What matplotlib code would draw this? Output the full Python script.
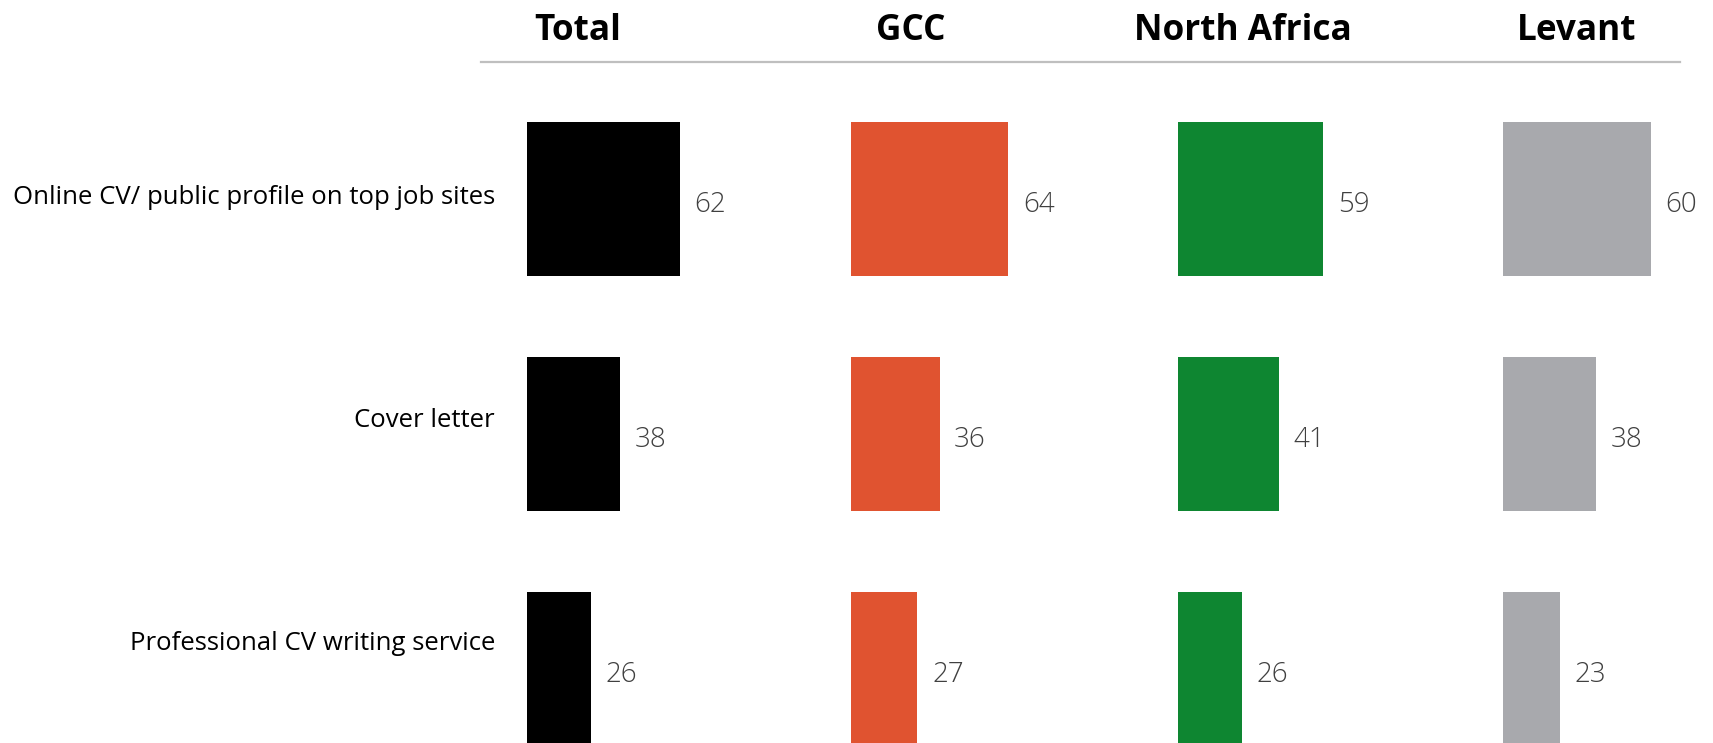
import matplotlib
matplotlib.use("Agg")
import matplotlib.pyplot as plt
from matplotlib.lines import Line2D

# Survey data: share of respondents (%) using each job-search tool, by region
categories = [
    "Online CV/ public profile on top job sites",
    "Cover letter",
    "Professional CV writing service",
]
regions = ["Total", "GCC", "North Africa", "Levant"]
total = [62, 38, 26]
gcc = [64, 36, 27]
north_africa = [59, 41, 26]
levant = [60, 38, 23]

series = [total, gcc, north_africa, levant]
colors = ["#000000", "#E05330", "#0E8631", "#A8A9AD"]

W, H = 1713, 743
fig = plt.figure(figsize=(W / 100, H / 100), dpi=100)
fig.patch.set_facecolor("white")

FONT = "Open Sans"

# Panel geometry (figure pixels)
panel_left = [527, 851, 1178, 1503]
panel_width = 200
px_per_unit = 2.46
row0_center = 199
row_pitch = 235
bar_height = 154 / row_pitch

y_top = -row0_center / row_pitch
y_bottom = (H - row0_center) / row_pitch

for left, vals, col in zip(panel_left, series, colors):
    ax = fig.add_axes([left / W, 0, panel_width / W, 1])
    ax.set_xlim(0, panel_width / px_per_unit)
    ax.set_ylim(y_bottom, y_top)
    ax.axis("off")
    ypos = list(range(len(vals)))
    ax.barh(ypos, vals, height=bar_height, color=col, align="center")
    for y, v in zip(ypos, vals):
        ax.annotate(f"{v}", xy=(v, y), xytext=(10.5, -4.5), textcoords="offset points",
                    ha="left", va="center", fontsize=20, color="#404040",
                    family=FONT, fontweight="light", annotation_clip=False,
                    clip_on=False)

# Category labels
label_y = [197, 420, 644]
for txt, yp in zip(categories, label_y):
    fig.text(495 / W, 1 - yp / H, txt, ha="right", va="center",
             fontsize=18.5, color="#000000", family=FONT)

# Column headers
header_x = [578, 911, 1243, 1577]
for name, xp in zip(regions, header_x):
    fig.text(xp / W, 1 - 31 / H, name, ha="center", va="center",
             fontsize=25.3, fontweight="bold", color="#000000", family=FONT)

# Divider under the headers
fig.add_artist(Line2D([481 / W, 1680 / W], [1 - 61.5 / H, 1 - 61.5 / H],
                      color="#BFBFBF", linewidth=1.6, transform=fig.transFigure))

fig.savefig("out.png", dpi=100, facecolor="white")
